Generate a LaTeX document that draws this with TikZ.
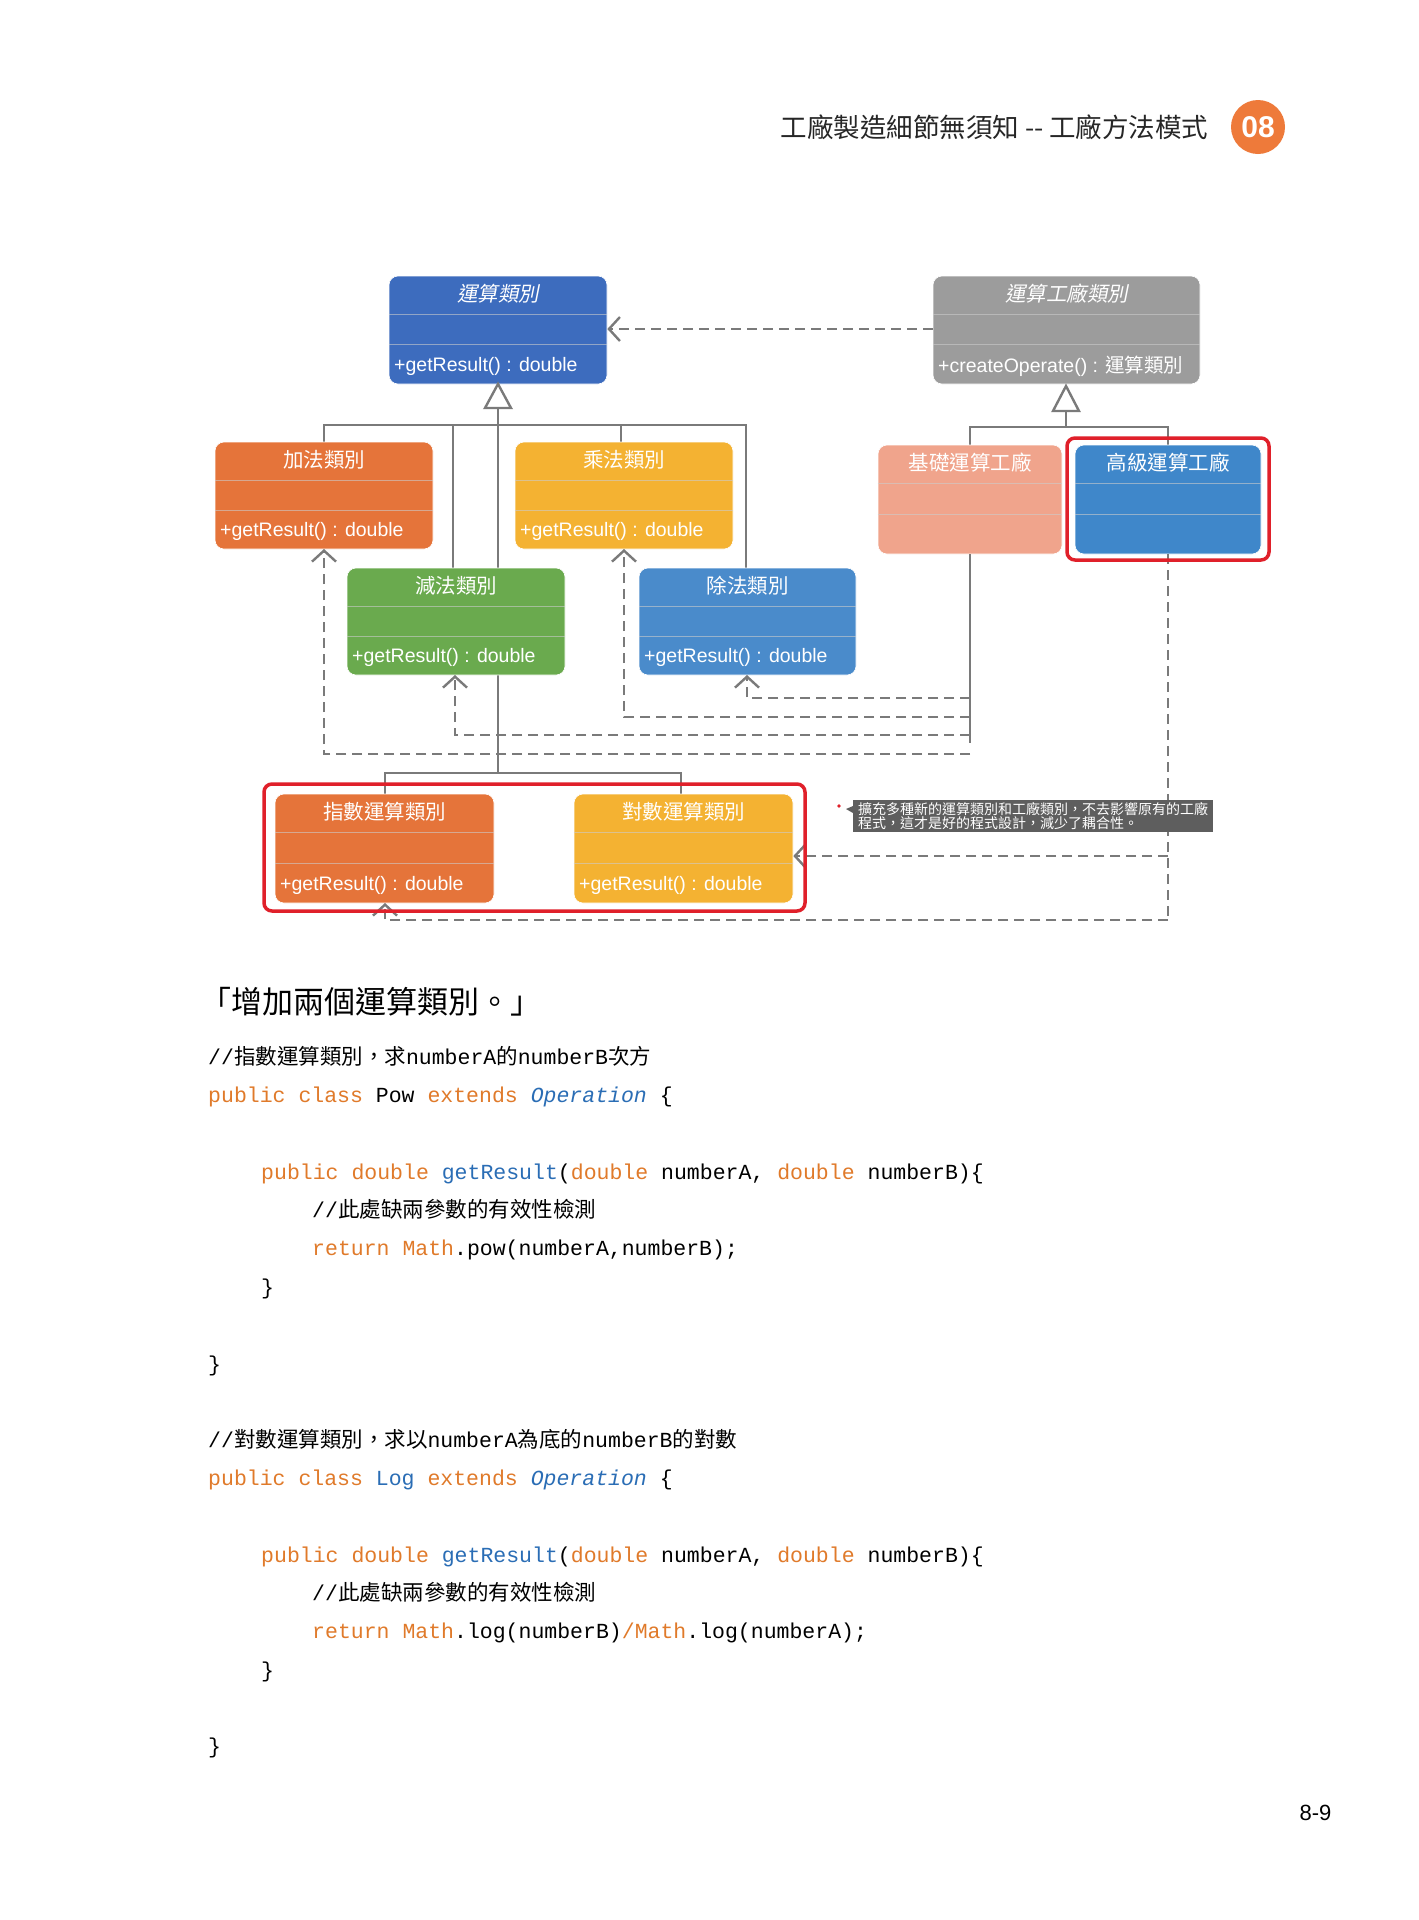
\documentclass[tikz,border=0pt]{standalone}
\usepackage{fontspec}
\setmainfont{Liberation Sans}
\setmonofont{Liberation Mono}
\newfontfamily\cjk{Noto Sans CJK TC}
\newfontfamily\cjkit{Noto Sans CJK TC}[FakeSlant=0.2]
\usetikzlibrary{arrows.meta}
\definecolor{cBlue}{HTML}{3D6CBE}
\definecolor{cGray}{HTML}{9C9C9C}
\definecolor{cOrange}{HTML}{E5743A}
\definecolor{cYellow}{HTML}{F4B232}
\definecolor{cGreen}{HTML}{6AAA4E}
\definecolor{cLBlue}{HTML}{4A8BCB}
\definecolor{cSalmon}{HTML}{F0A48C}
\definecolor{cHigh}{HTML}{3F87CA}
\definecolor{lineG}{HTML}{7A7A7A}
\definecolor{kwO}{HTML}{E07A2A}
\definecolor{kwB}{HTML}{2A6DB5}
\definecolor{noteG}{HTML}{5E5E5E}
\definecolor{redB}{HTML}{E0202A}
\definecolor{pageO}{HTML}{EE7A3A}
\tikzset{
 umlb/.style={rounded corners=9pt, draw=white, line width=0.6pt, inner sep=0pt},
 sep/.style={draw=white!80!black, line width=1pt, opacity=0.6},
 gen/.style={draw=lineG, line width=2.4pt},
 dep/.style={draw=lineG, line width=2.4pt, dash pattern=on 10pt off 6pt},
 deparr/.style={dep, -{Straight Barb[length=11pt,width=24pt,line width=2.4pt]}},
 tri/.style={draw=lineG, line width=2.4pt, fill=white},
 redbox/.style={draw=redB, line width=3.5pt, rounded corners=8pt},
 ttl/.style={text=white, font=\cjk\fontsize{20.5}{24}\selectfont},
 mth/.style={text=white, font=\fontsize{19.5}{22}\selectfont, anchor=west},
 code/.style={anchor=base west, font=\ttfamily\fontsize{21.5}{25}\selectfont, inner sep=0pt},
}
% #1 name, #2 x1, #3 y1, #4 x2, #5 y2, #6 colour, #7 title, #8 method
\newcommand\umlbox[8]{%
 \node[umlb, fill=#6, minimum width={#4-#2}, minimum height={#5-#3}] (#1) at ({(#2+#4)/2},{(#3+#5)/2}) {};
 \draw[sep] ([yshift=-0.36*(#5-#3)*1pt]#1.north west) -- ([yshift=-0.36*(#5-#3)*1pt]#1.north east);
 \draw[sep] ([yshift=-0.64*(#5-#3)*1pt]#1.north west) -- ([yshift=-0.64*(#5-#3)*1pt]#1.north east);
 \node[ttl] (#1t) at ([yshift=-18pt]#1.north) {#7};
 \node[mth] (#1m) at ([xshift=2pt,yshift=18pt]#1.south west) {#8};
}
\begin{document}
\begin{tikzpicture}[x=1pt,y=-1pt]
\useasboundingbox[fill=white] (0,0) rectangle (1419,1920);
% header
\node[anchor=east, font=\cjk\fontsize{26.5}{30}\selectfont, text=black!85] (hdr) at (1212,127) {工廠製造細節無須知 -{}- 工廠方法模式};
\node[circle, fill=pageO, minimum size=54pt, inner sep=0pt, text=white, font=\bfseries\fontsize{30}{30}\selectfont] (chap) at (1258,127) {08};

% generalization lines (behind boxes)
\coordinate (tA) at (498,408);
\draw[gen] (tA) -- (498,773);
\draw[gen] (324,442) -- (324,425) -- (746,425) -- (746,568);
\draw[gen] (453,425) -- (453,568);
\draw[gen] (621,425) -- (621,442);
\draw[gen] (385,794) -- (385,773) -- (681,773) -- (681,794);
\coordinate (tF) at (1066,411);
\draw[gen] (tF) -- (1066,427);
\draw[gen] (970,445) -- (970,427) -- (1168,427) -- (1168,445);

% boxes
\umlbox{op}{389}{276}{607}{384}{cBlue}{\cjkit 運算類別}{+getResult() : double}
\umlbox{fac}{933}{276}{1200}{384}{cGray}{\cjkit 運算工廠類別}{+createOperate() : {\cjk 運算類別}}
\umlbox{add}{215}{442}{433}{549}{cOrange}{加法類別}{+getResult() : double}
\umlbox{mul}{515}{442}{733}{549}{cYellow}{乘法類別}{+getResult() : double}
\umlbox{sub}{347}{568}{565}{675}{cGreen}{減法類別}{+getResult() : double}
\umlbox{div}{639}{568}{856}{675}{cLBlue}{除法類別}{+getResult() : double}
\umlbox{bas}{878}{445}{1062}{554}{cSalmon}{基礎運算工廠}{}
\umlbox{adv}{1075}{445}{1261}{554}{cHigh}{高級運算工廠}{}
\umlbox{pow}{275}{794}{494}{903}{cOrange}{指數運算類別}{+getResult() : double}
\umlbox{log}{574}{794}{793}{903}{cYellow}{對數運算類別}{+getResult() : double}

% triangles
\draw[tri] (498,384) -- (485,408) -- (511,408) -- cycle;
\draw[tri] (1066,386) -- (1053,411) -- (1079,411) -- cycle;

% dependencies
\draw[deparr] (fac.west |- 0,329) -- (op.east |- 0,329);
\draw[gen] (bas.south) -- (970,743);
\coordinate (d1) at (970,698);
\coordinate (d2) at (970,717);
\coordinate (d3) at (970,735);
\coordinate (d4) at (970,754);
\draw[deparr] (d1) -- (747,698) -- (747,675);
\draw[deparr] (d2) -- (624,717) -- (624,549);
\draw[deparr] (d3) -- (455,735) -- (455,675);
\draw[deparr] (d4) -- (324,754) -- (324,549);
\draw[dep] (adv.south) -- (1168,920);
\coordinate (e1) at (1168,856);
\coordinate (e2) at (1168,920);
\draw[deparr] (e1) -- (log.east |- 0,856);
\draw[deparr] (e2) -- (385,920) -- (385,903);

% red boxes
\draw[redbox] (1067,438) rectangle (1269,560);
\draw[redbox] (264,784) rectangle (805,911);

% note
\node[fill=noteG, text=white, anchor=north west, inner xsep=5pt, inner ysep=2pt, align=left,
 font=\cjk\fontsize{14}{14.5}\selectfont] (note) at (853,800) {擴充多種新的運算類別和工廠類別，不去影響原有的工廠\\程式，這才是好的程式設計，減少了耦合性。};
\fill[noteG] (note.west |- 0,806) -- ++(-7,3) -- ++(7,4) -- cycle;
\fill[redB] (839,806) circle (1.8pt);

% text
\node[anchor=base west, font=\cjk\fontsize{31}{34}\selectfont, inner sep=0pt] (lead) at (200,1013) {「增加兩個運算類別。」};
\node[code] (c1) at (208,1064) {//{\cjk 指數運算類別，求}numberA{\cjk 的}numberB{\cjk 次方}};
\node[code] (c2) at (208,1102) {\textcolor{kwO}{public class} Pow \textcolor{kwO}{extends} \textcolor{kwB}{\itshape Operation} \{};
\node[code] (c3) at (261,1179) {\textcolor{kwO}{public double} \textcolor{kwB}{getResult}(\textcolor{kwO}{double} numberA, \textcolor{kwO}{double} numberB)\{};
\node[code] (c4) at (312,1217) {//{\cjk 此處缺兩參數的有效性檢測}};
\node[code] (c5) at (312,1255) {\textcolor{kwO}{return} \textcolor{kwO}{Math}.pow(numberA,numberB);};
\node[code] (c6) at (261,1294) {\}};
\node[code] (c7) at (208,1371) {\}};
\node[code] (c8) at (208,1447) {//{\cjk 對數運算類別，求以}numberA{\cjk 為底的}numberB{\cjk 的對數}};
\node[code] (c9) at (208,1485) {\textcolor{kwO}{public class} \textcolor{kwB}{Log} \textcolor{kwO}{extends} \textcolor{kwB}{\itshape Operation} \{};
\node[code] (c10) at (261,1562) {\textcolor{kwO}{public double} \textcolor{kwB}{getResult}(\textcolor{kwO}{double} numberA, \textcolor{kwO}{double} numberB)\{};
\node[code] (c11) at (312,1600) {//{\cjk 此處缺兩參數的有效性檢測}};
\node[code] (c12) at (312,1638) {\textcolor{kwO}{return} \textcolor{kwO}{Math}.log(numberB)\textcolor{kwO}{/Math}.log(numberA);};
\node[code] (c13) at (261,1677) {\}};
\node[code] (c14) at (208,1753) {\}};
\node[anchor=base east, font=\fontsize{22}{24}\selectfont] (pg) at (1335,1820) {8-9};
\end{tikzpicture}
\end{document}
